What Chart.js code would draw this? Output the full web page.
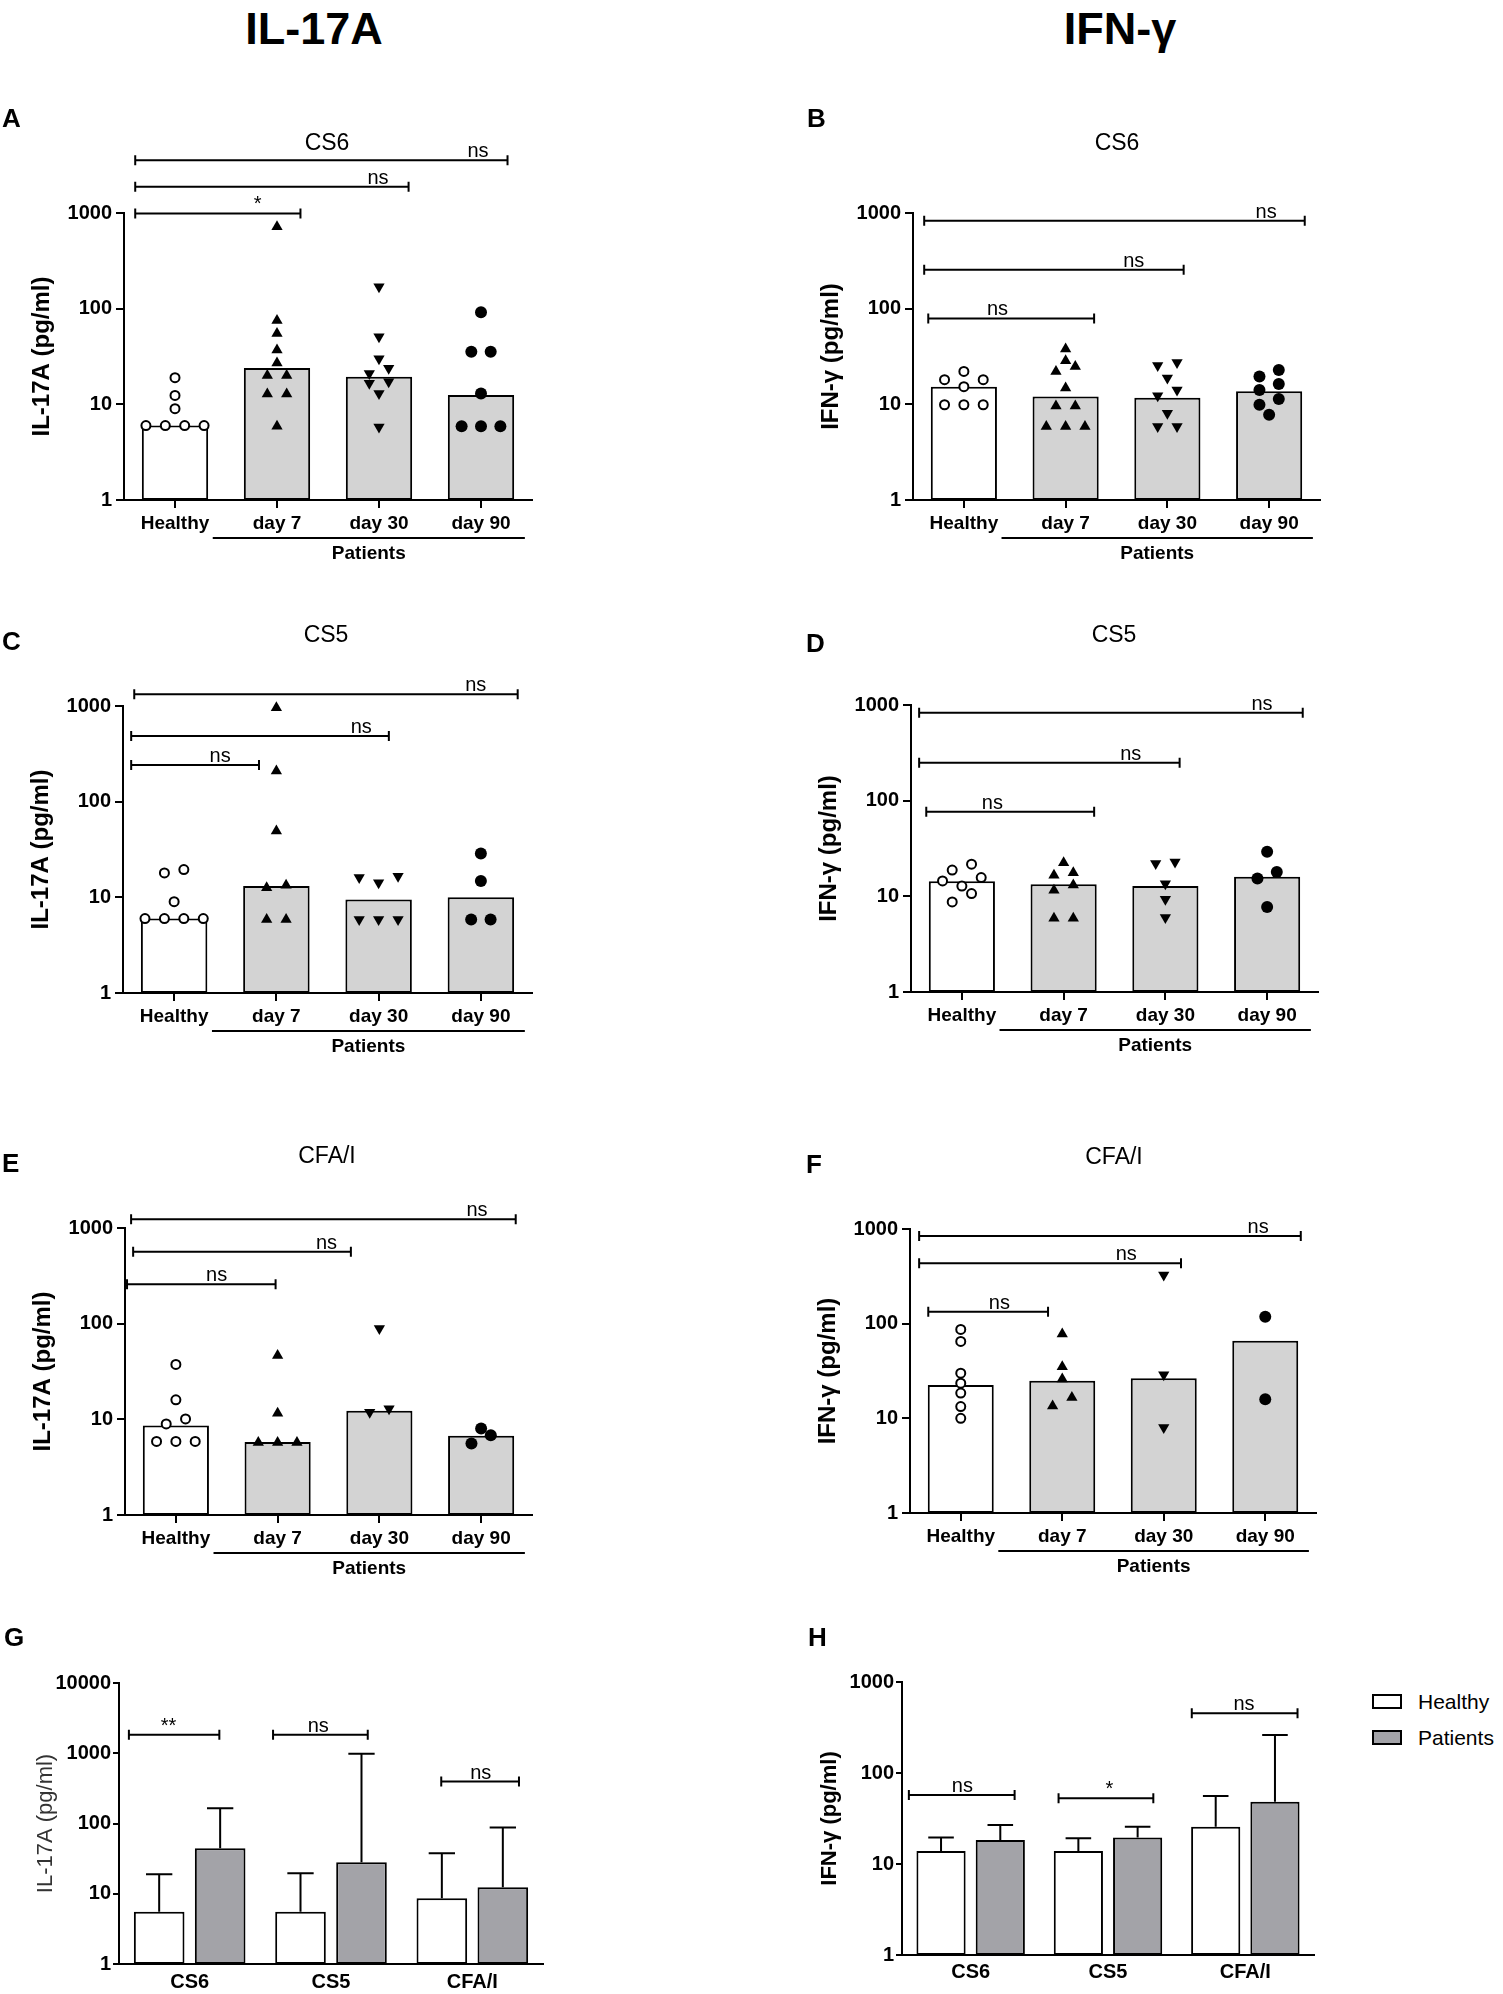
<!DOCTYPE html>
<html>
<head>
<meta charset="utf-8">
<title>IL-17A / IFN-γ</title>
<script src="https://cdn.jsdelivr.net/npm/chart.js"></script>
<style>
  body { margin: 0; background: #fff; }
  #fig { position: relative; width: 1503px; height: 1994px; overflow: hidden; background: #fff;
         font-family: "Liberation Sans", Arial, sans-serif; color: #000; }
  .box { position: absolute; }
  .t { position: absolute; white-space: nowrap; line-height: 1; }
  .c { transform: translate(-50%, -50%); }
  .l { transform: translate(0, -50%); }
  .head { font-size: 45px; font-weight: bold; }
  .letter { font-size: 26px; font-weight: bold; }
  .ttl { font-size: 23px; }
  .leg { font-size: 21px; }
  .swatch { position: absolute; width: 26px; height: 11px; border: 2px solid #000; }
</style>
</head>
<body>
<div id="fig"></div>
<script>
// ---------- data ----------
const timeCats = ['Healthy', 'day 7', 'day 30', 'day 90'];
const antigenCats = ['CS6', 'CS5', 'CFA/I'];
const ticksTime = [1, 10, 100, 1000];
const ticksSummary = [1, 10, 100, 1000, 10000];

// brackets: [from, to, value, label, label position]  (x in category units)

// A: IL-17A, CS6
const aHealthy = [6, 6, 6, 6, 9, 12.4, 19];
const aDay7 = [5.9, 12.8, 12.8, 20, 20, 27, 37, 55, 75, 718];
const aDay30 = [5.8, 13, 16.6, 17.2, 21, 23.8, 30, 51, 169];
const aDay90 = [5.9, 5.9, 5.9, 13, 35.5, 35.5, 91.5];
const aBars = [6, 24, 19.4, 12.5];
const aBrackets = [[-0.39, 1.23, 990, '*', 0.81], [-0.39, 2.29, 1878, 'ns', 1.99], [-0.39, 3.26, 3570, 'ns', 2.97]];

// B: IFN-γ, CS6
const bHealthy = [9.9, 9.9, 9.9, 15.3, 18.1, 18.1, 22.1];
const bDay7 = [5.85, 5.85, 5.85, 9.6, 9.6, 14.8, 22.1, 24.9, 28.6, 37.9];
const bDay30 = [5.85, 5.85, 8.05, 12.3, 14.1, 18.9, 25.4, 27.4];
const bDay90 = [7.8, 9.9, 11.4, 14.1, 16.3, 19.5, 22.9];
const bBars = [15.3, 12.1, 11.7, 13.7];
const bBrackets = [[-0.35, 1.28, 79, 'ns', 0.33], [-0.39, 2.16, 255, 'ns', 1.67], [-0.39, 3.35, 830, 'ns', 2.97]];

// C: IL-17A, CS5
const cHealthy = [6, 6, 6, 6, 9, 18, 19.5];
const cDay7 = [5.86, 5.86, 12.6, 13.4, 49.5, 209, 960];
const cDay30 = [5.86, 5.86, 5.86, 14.2, 16.1, 16.6];
const cDay90 = [5.86, 5.86, 14.8, 28.8];
const cBars = [6, 13.1, 9.5, 10];
const cBrackets = [[-0.42, 0.83, 242, 'ns', 0.45], [-0.42, 2.1, 485, 'ns', 1.83], [-0.39, 3.36, 1325, 'ns', 2.95]];

// D: IFN-γ, CS5
const dHealthy = [8.75, 10.7, 12.8, 14.5, 15.7, 18.8, 21.7];
const dDay7 = [5.9, 5.9, 11.6, 13.1, 16.6, 17.6, 22.4];
const dDay30 = [6, 9.3, 13.5, 22, 22.9];
const dDay90 = [7.75, 15.4, 18, 29.2];
const dBars = [14.4, 13.4, 12.8, 16];
const dBrackets = [[-0.35, 1.3, 76.5, 'ns', 0.3], [-0.42, 2.14, 249, 'ns', 1.66], [-0.42, 3.35, 830, 'ns', 2.95]];

// E: IL-17A, CFA/I
const eHealthy = [5.88, 5.88, 5.88, 8.95, 10.1, 16, 37.5];
const eDay7 = [5.74, 5.74, 5.74, 11.6, 46.6];
const eDay30 = [11.85, 12.9, 88.9];
const eDay90 = [5.6, 6.8, 8];
const eBars = [8.6, 5.8, 12.3, 6.75];
const eBrackets = [[-0.48, 0.98, 259, 'ns', 0.4], [-0.42, 1.72, 565, 'ns', 1.48], [-0.44, 3.34, 1237, 'ns', 2.96]];

// F: IFN-γ, CFA/I
const fHealthy = [10, 13.3, 18.5, 23.5, 30, 65, 87];
const fDay7 = [13.5, 16.6, 26, 35, 78];
const fDay30 = [8, 28.8, 326];
const fDay90 = [15.9, 118];
const fBars = [22.5, 25, 26.5, 66];
const fBrackets = [[-0.32, 0.86, 134, 'ns', 0.38], [-0.41, 2.17, 434, 'ns', 1.63], [-0.41, 3.35, 841, 'ns', 2.93]];

// G: IL-17A summary
const gHealthy = [5.56, 5.56, 8.6];
const gHealthyErr = [19, 19.6, 37.8];
const gPatients = [44.5, 28.1, 12.4];
const gPatientsErr = [165, 980, 87.5];
const gBrackets = [[-0.43, 0.21, 1829, '**', -0.15], [0.59, 1.26, 1829, 'ns', 0.91], [1.78, 2.33, 395, 'ns', 2.06]];

// H: IFN-γ summary
const hHealthy = [13.9, 13.9, 25.7];
const hHealthyErr = [19.5, 19.2, 55.9];
const hPatients = [18.4, 19.5, 48.4];
const hPatientsErr = [26.8, 25.7, 262];
const hBrackets = [[-0.45, 0.32, 57.3, 'ns', -0.06], [0.64, 1.33, 52.7, '*', 1.01], [1.61, 2.38, 453, 'ns', 1.99]];

// ---------- style ----------
const FONT = '"Liberation Sans", Arial, sans-serif';
const LIGHT = '#d3d3d3';
const DARK = '#a3a3a8';
const timeFills = ['#ffffff', LIGHT, LIGHT, LIGHT];
const timeMarkers = [
  {style: 'circle', r: 4.5, fill: '#ffffff', bw: 2},
  {style: 'triangle', r: 6.5, fill: '#000000', bw: 0},
  {style: 'triangle', r: 6.5, fill: '#000000', bw: 0, rot: 180},
  {style: 'circle', r: 6, fill: '#000000', bw: 0}
];

Chart.defaults.font.family = FONT;
Chart.defaults.color = '#000';

const fig = document.getElementById('fig');

// spread points of similar value side by side, centred on the category
function swarm(values, center) {
  const step = 0.19, gap = 0.1;
  const rows = [];
  values.slice().sort((a, b) => a - b).forEach(v => {
    const row = rows[rows.length - 1];
    if (row && Math.log10(v) - Math.log10(row[0]) < gap) row.push(v);
    else rows.push([v]);
  });
  const pts = [];
  rows.forEach(row => {
    const n = row.length;
    const slots = row.map((_, k) => (k - (n - 1) / 2) * step)
      .sort((a, b) => Math.abs(a) - Math.abs(b) || a - b);
    row.forEach((v, k) => pts.push({x: center + slots[k], y: v}));
  });
  return pts;
}

function text(str, x, y, cls) {
  const d = document.createElement('div');
  d.className = 't ' + cls;
  d.style.left = x + 'px';
  d.style.top = y + 'px';
  d.textContent = str;
  fig.appendChild(d);
}

function place(g, yw, pt, pr, xh) {
  const left = Math.round(g.L) - yw, top = Math.round(g.T) - pt;
  const w = Math.round(g.R) + pr - left, h = Math.round(g.B) + xh - top;
  const box = document.createElement('div');
  box.className = 'box';
  Object.assign(box.style, {left: left + 'px', top: top + 'px', width: w + 'px', height: h + 'px'});
  const cv = document.createElement('canvas');
  box.appendChild(cv);
  fig.appendChild(box);
  return cv;
}

function annotations(brackets, group, errors) {
  return {
    id: 'annotations',
    afterDatasetsDraw(chart) {
      const {ctx, chartArea: area} = chart;
      const xs = chart.scales.x, ys = chart.scales.y;
      ctx.save();
      ctx.strokeStyle = '#000';
      ctx.fillStyle = '#000';
      ctx.lineWidth = 2;
      if (errors) {
        errors.forEach((vals, d) => {
          chart.getDatasetMeta(d).data.forEach((bar, i) => {
            const top = ys.getPixelForValue(vals[i]);
            const half = bar.width * 0.26;
            ctx.beginPath();
            ctx.moveTo(bar.x, bar.y);
            ctx.lineTo(bar.x, top);
            ctx.moveTo(bar.x - half, top);
            ctx.lineTo(bar.x + half, top);
            ctx.stroke();
          });
        });
      }
      ctx.font = '20px ' + FONT;
      ctx.textAlign = 'center';
      ctx.textBaseline = 'alphabetic';
      brackets.forEach(([a, b, v, label, at]) => {
        const x0 = xs.getPixelForValue(a), x1 = xs.getPixelForValue(b), y = ys.getPixelForValue(v);
        ctx.beginPath();
        ctx.moveTo(x0, y); ctx.lineTo(x1, y);
        ctx.moveTo(x0, y - 5); ctx.lineTo(x0, y + 5);
        ctx.moveTo(x1, y - 5); ctx.lineTo(x1, y + 5);
        ctx.stroke();
        ctx.fillText(label, xs.getPixelForValue(at), y - 3);
      });
      if (group) {
        const x0 = xs.getPixelForValue(group.from), x1 = xs.getPixelForValue(group.to);
        const y = area.bottom + 38;
        ctx.beginPath();
        ctx.moveTo(x0, y); ctx.lineTo(x1, y);
        ctx.stroke();
        ctx.font = 'bold 19px ' + FONT;
        ctx.textBaseline = 'middle';
        ctx.fillText(group.label, (x0 + x1) / 2, area.bottom + 54);
      }
      ctx.restore();
    }
  };
}

function yAxis(ticks, max, title, yw, tickLen, pad, titleFont, titlePad) {
  return {
    type: 'logarithmic', min: 1, max: max,
    afterBuildTicks: s => { s.ticks = ticks.map(v => ({value: v})); },
    afterFit: s => { s.width = yw; },
    ticks: {font: {size: 20, weight: 'bold'}, padding: pad, callback: v => String(v)},
    grid: {drawOnChartArea: false, tickLength: tickLen, color: '#000', lineWidth: 2},
    border: {color: '#000', width: 2},
    title: {display: true, text: title, font: titleFont.font, color: titleFont.color,
            padding: {top: titlePad, bottom: 0}}
  };
}

function timePanel(p) {
  const yw = 124, pt = 100, pr = 25, xh = 75;
  const cv = place(p.geom, yw, pt, pr, xh);
  const datasets = [{
    type: 'bar', data: p.bars, backgroundColor: timeFills, borderColor: '#000', borderWidth: 2,
    borderSkipped: false, grouped: false, barPercentage: 0.65, categoryPercentage: 1, order: 2
  }];
  p.groups.forEach((vals, i) => {
    const m = timeMarkers[i];
    datasets.push({
      type: 'scatter', parsing: false, data: swarm(vals, i), order: 1, clip: false,
      pointStyle: m.style, pointRadius: m.r, pointHoverRadius: m.r, pointRotation: m.rot || 0,
      pointBackgroundColor: m.fill, pointBorderColor: '#000', pointBorderWidth: m.bw
    });
  });
  new Chart(cv, {
    type: 'bar',
    data: {labels: timeCats, datasets},
    options: {
      responsive: true, maintainAspectRatio: false, animation: false,
      layout: {padding: {left: 0, top: pt, right: pr, bottom: 0}},
      plugins: {legend: {display: false}, tooltip: {enabled: false}},
      scales: {
        x: {
          type: 'category', offset: true,
          afterFit: s => { s.height = xh; },
          ticks: {font: {size: 19, weight: 'bold'}, padding: 4, maxRotation: 0, autoSkip: false},
          grid: {drawOnChartArea: false, offset: false, tickLength: 8, color: '#000', lineWidth: 2},
          border: {color: '#000', width: 2}
        },
        y: yAxis(ticksTime, 1000, p.yTitle, yw, 8, 4, {font: {size: 24, weight: 'bold'}, color: '#000'}, 28)
      }
    },
    plugins: [annotations(p.brackets, {from: 0.37, to: 3.43, label: 'Patients'}, null)]
  });
}

function summaryPanel(p) {
  const yw = 118, pt = 100, pr = 25;
  const cv = place(p.geom, yw, pt, pr, p.xh);
  const common = {borderColor: '#000', borderWidth: 2, borderSkipped: false,
                  barPercentage: 0.83, categoryPercentage: 0.863};
  new Chart(cv, {
    type: 'bar',
    data: {labels: antigenCats, datasets: [
      Object.assign({label: 'Healthy', data: p.healthy, backgroundColor: '#ffffff'}, common),
      Object.assign({label: 'Patients', data: p.patients, backgroundColor: DARK}, common)
    ]},
    options: {
      responsive: true, maintainAspectRatio: false, animation: false,
      layout: {padding: {left: 0, top: pt, right: pr, bottom: 0}},
      plugins: {legend: {display: false}, tooltip: {enabled: false}},
      scales: {
        x: {
          type: 'category', offset: true,
          afterFit: s => { s.height = p.xh; },
          ticks: {font: {size: 20, weight: 'bold'}, padding: p.labelPad, maxRotation: 0, autoSkip: false},
          grid: {display: false, drawTicks: false},
          border: {color: '#000', width: 2}
        },
        y: yAxis(p.ticks, p.max, p.yTitle, yw, 6, 2, p.titleFont, p.titlePad)
      }
    },
    plugins: [annotations(p.brackets, null, [p.healthyErr, p.patientsErr])]
  });
}

// ---------- panels ----------
const il = 'IL-17A (pg/ml)', ifn = 'IFN-γ (pg/ml)';
[
  {groups: [aHealthy, aDay7, aDay30, aDay90], bars: aBars, brackets: aBrackets, yTitle: il,
   geom: {L: 124, R: 532, T: 213, B: 500}},
  {groups: [bHealthy, bDay7, bDay30, bDay90], bars: bBars, brackets: bBrackets, yTitle: ifn,
   geom: {L: 913, R: 1320, T: 213, B: 500}},
  {groups: [cHealthy, cDay7, cDay30, cDay90], bars: cBars, brackets: cBrackets, yTitle: il,
   geom: {L: 123, R: 532, T: 706, B: 993}},
  {groups: [dHealthy, dDay7, dDay30, dDay90], bars: dBars, brackets: dBrackets, yTitle: ifn,
   geom: {L: 911, R: 1318, T: 705, B: 992}},
  {groups: [eHealthy, eDay7, eDay30, eDay90], bars: eBars, brackets: eBrackets, yTitle: il,
   geom: {L: 125, R: 532, T: 1228, B: 1515}},
  {groups: [fHealthy, fDay7, fDay30, fDay90], bars: fBars, brackets: fBrackets, yTitle: ifn,
   geom: {L: 910, R: 1316, T: 1229, B: 1513}}
].forEach(timePanel);

summaryPanel({healthy: gHealthy, healthyErr: gHealthyErr, patients: gPatients, patientsErr: gPatientsErr,
  brackets: gBrackets, ticks: ticksSummary, max: 10000, yTitle: il,
  titleFont: {font: {size: 22, weight: 'normal'}, color: '#333'}, titlePad: 32,
  labelPad: 6, xh: 30, geom: {L: 119, R: 543, T: 1683, B: 1964}});
summaryPanel({healthy: hHealthy, healthyErr: hHealthyErr, patients: hPatients, patientsErr: hPatientsErr,
  brackets: hBrackets, ticks: ticksTime, max: 1000, yTitle: ifn,
  titleFont: {font: {size: 22, weight: 'bold'}, color: '#000'}, titlePad: 33,
  labelPad: 5, xh: 39, geom: {L: 902, R: 1314, T: 1682, B: 1955}});

// ---------- headings, letters, titles, legend ----------
text('IL-17A', 314, 28, 'c head');
text('IFN-γ', 1120, 28, 'c head');
[['A', 2, 118], ['B', 807, 118], ['C', 2, 641], ['D', 806, 643],
 ['E', 2, 1163], ['F', 806, 1164], ['G', 4, 1637], ['H', 808, 1637]]
  .forEach(([s, x, y]) => text(s, x, y, 'l letter'));
[['CS6', 327, 142], ['CS6', 1117, 142], ['CS5', 326, 634], ['CS5', 1114, 634],
 ['CFA/I', 327, 1155], ['CFA/I', 1114, 1156]]
  .forEach(([s, x, y]) => text(s, x, y, 'c ttl'));

[['Healthy', '#ffffff', 1701], ['Patients', DARK, 1737]].forEach(([s, fill, y]) => {
  const sw = document.createElement('div');
  sw.className = 'swatch';
  sw.style.left = '1372px';
  sw.style.top = (y - 7.5) + 'px';
  sw.style.background = fill;
  fig.appendChild(sw);
  text(s, 1418, y, 'l leg');
});
</script>
</body>
</html>
